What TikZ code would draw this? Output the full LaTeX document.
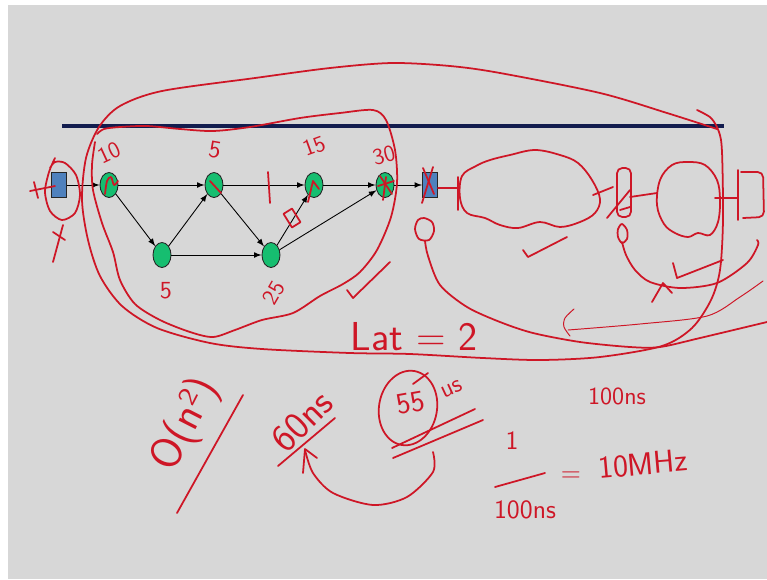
\documentclass[tikz,border=0pt]{standalone}
\usetikzlibrary{shapes.geometric}
\definecolor{penred}{RGB}{206,22,38}
\definecolor{stagegreen}{RGB}{22,190,112}
\definecolor{portblue}{RGB}{79,129,189}
\definecolor{railnavy}{RGB}{18,28,78}
\definecolor{slidegray}{RGB}{215,215,215}
\newcommand{\penfont}[1]{\fontsize{#1}{#1}\selectfont\sffamily}
\begin{document}
\begin{tikzpicture}[x=0.02cm, y=-0.02cm,
    stage/.style={ellipse, draw=black!85, fill=stagegreen, line width=0.5pt,
        minimum width=0.36cm, minimum height=0.5cm, inner sep=0pt},
    port/.style={rectangle, draw=black!85, fill=portblue, line width=0.5pt,
        minimum width=0.3cm, minimum height=0.5cm, inner sep=0pt},
    flow/.style={-latex, line width=0.5pt},
    ink/.style={penred, line width=1pt, line cap=round, line join=round},
    thinink/.style={penred, line width=0.55pt, line cap=round, line join=round},
    scrawl/.style={text=penred, inner sep=0pt}]
    \useasboundingbox (0,0) rectangle (767,579);
    \fill[white] (0,0) rectangle (767,579);
    \fill[slidegray] (8,5) rectangle (767,579);

    % 顶部横线
    \draw[railnavy, line width=2pt] (62,126) -- (724,126);

    % 流水线图
    \node[port]  (src) at (59,185) {};
    \node[stage] (n1)  at (109,185) {};
    \node[stage] (n2)  at (214,185) {};
    \node[stage] (n3)  at (314,185) {};
    \node[stage] (n4)  at (385,185) {};
    \node[stage] (n5)  at (162,255) {};
    \node[stage] (n6)  at (271,255) {};
    \node[port]  (snk) at (430,185) {};

    \draw[flow] (src) -- (n1);
    \draw[flow] (n1) -- (n2);
    \draw[flow] (n2) -- (n3);
    \draw[flow] (n3) -- (n4);
    \draw[flow] (n4) -- (snk);
    \draw[flow] (n1) -- (n5);
    \draw[flow] (n5) -- (n2);
    \draw[flow] (n2) -- (n6);
    \draw[flow] (n5) -- (n6);
    \draw[flow] (n6) -- (n3);
    \draw[flow] (n6) -- (n4);

    % 节点旁的手写延迟
    \node[scrawl, font=\penfont{13}, rotate=25] (l1) at (109,153) {10};
    \node[scrawl, font=\penfont{14}, rotate=-10] (l2) at (215,150) {5};
    \node[scrawl, font=\penfont{13}, rotate=20] (l3) at (314,146) {15};
    \node[scrawl, font=\penfont{13}, rotate=15] (l4) at (384,155) {30};
    \node[scrawl, font=\penfont{14}] (l5) at (166,291) {5};
    \node[scrawl, font=\penfont{13}, rotate=60] (l6) at (274,293) {25};

    % 节点上的记号
    \draw[ink] plot[smooth] coordinates {(105,194) (107,181) (111,177) (114,185) (118,181)};
    \draw[ink] (210,181) -- (221,193);
    \draw[ink] (308,202) -- (313,181) -- (319,189);
    \draw[ink] (378,186) -- (394,181);
    \draw[ink] (386,177) -- (383,200);
    \draw[ink] (380,176) -- (392,194);
    \draw[ink] (268,172) -- (270,203);
    \draw[ink, rotate around={-58:(292,218)}] (284,213) rectangle (300,223);

    % 输入端
    \draw[ink] plot[smooth] coordinates {(55,158) (49,172) (45,192) (50,211) (62,220) (75,213) (80,195) (76,175) (65,163) (55,162) (50,168)};
    \draw[ink] (30,191) -- (55,186);
    \draw[ink] (34,182) -- (38,198);
    \draw[ink] (53,262) -- (63,225);
    \draw[ink] (53,232) -- (65,240);

    % 输出端
    \draw[ink] (423,168) -- (434,194);
    \draw[ink] (422,203) -- (433,167);
    \draw[ink] plot[smooth cycle] coordinates {(424,218) (432,222) (434,231) (429,240) (419,239) (415,229) (418,220)};

    % 内圈
    \draw[ink] plot[smooth] coordinates {(97,134) (104,129) (120,127) (147,126) (180,129) (213,131) (250,127) (300,118) (340,113) (373,110) (386,120) (395,150) (397,183) (391,217) (377,250) (360,272) (343,284) (320,296) (293,313) (262,320) (235,330) (213,337) (190,332) (160,320) (135,304) (120,280) (113,252) (102,223) (93,190) (92,165) (95,142)};
    \draw[ink] (347,290) -- (353,298) -- (390,262);

    % 外圈
    \draw[ink] plot[smooth] coordinates {(697,110) (711,118) (719,132) (722,152) (723,220) (720,270) (711,300) (692,328) (662,346) (600,357) (540,360) (483,358) (410,354) (350,353) (262,349) (210,343) (157,328) (122,306) (100,276) (88,240) (82,200) (86,158) (99,127) (120,106) (162,91) (255,78) (330,68) (392,63) (450,66) (500,73) (600,93) (667,113) (717,129)};
    \node[scrawl, font=\penfont{23}] (lat) at (414,337) {Lat = 2};

    % 右侧草图
    \draw[ink] (438,188) -- (458,188);
    \draw[ink] (458,177) -- (458,210);
    \draw[ink] plot[smooth cycle, tension=0.6] coordinates {(462,176) (476,166) (490,160) (510,155) (535,150) (560,155) (578,163) (592,180) (600,199) (595,213) (580,222) (560,227) (540,222) (518,228) (500,225) (485,218) (467,213) (460,198)};
    \draw[ink] (523,250) -- (528,257) -- (567,237);
    \draw[ink] (593,195) -- (613,187);
    \draw[ink] (607,218) -- (630,190);
    \draw[ink, rounded corners=3pt] (617,168) rectangle (631,217);
    \draw[ink] (620,210) -- (630,207);
    \draw[ink] (630,197) -- (657,193);
    \draw[ink] plot[smooth cycle, tension=0.6] coordinates {(660,180) (672,165) (688,162) (705,165) (717,180) (720,200) (718,222) (710,235) (698,233) (688,237) (675,233) (664,224) (657,205)};
    \draw[ink] (715,198) -- (738,198);
    \draw[ink] (738,170) -- (738,220);
    \draw[ink, rounded corners=3pt] (741,172) -- (763,172) -- (764,217) -- (743,218);
    \draw[ink] plot[smooth cycle] coordinates {(622,224) (627,230) (627,239) (622,243) (618,237) (618,229)};
    \draw[ink] plot[smooth] coordinates {(622,242) (626,255) (635,270) (650,282) (680,288) (717,283) (747,263) (758,245) (757,240)};
    \draw[ink] (652,302) -- (663,283) -- (672,293);
    \draw[ink] (673,263) -- (677,278) -- (723,260);
    \draw[ink] plot[smooth] coordinates {(425,241) (428,256) (440,285) (467,307) (500,322) (533,333) (580,342) (630,347) (660,347) (700,338) (767,322)};
    \draw[thinink] plot[smooth] coordinates {(763,281) (740,297) (707,316) (640,324) (568,330)};
    \draw[thinink] plot[smooth] coordinates {(574,309) (565,318) (564,327) (570,336)};

    % 下方笔记
    \node[scrawl, font=\penfont{25}, rotate=63] (big) at (186,425) {O(n²)};
    \draw[ink] (243,395) -- (177,513);
    \node[scrawl, font=\penfont{22}, rotate=45] (t60) at (302,421) {60ns};
    \draw[ink] (335,418) -- (278,466);
    \node[scrawl, font=\penfont{17}, rotate=10] (t55) at (411,403) {55};
    \draw[ink] (428,373) -- (413,384);
    \draw[ink, rotate around={-10:(408,408)}] (408,408) ellipse (0.58cm and 0.75cm);
    \node[scrawl, font=\penfont{14}, rotate=25] (tus) at (452,389) {us};
    \draw[ink] (392,448) -- (475,409);
    \draw[ink] (393,458) -- (483,420);
    \draw[ink] plot[smooth] coordinates {(433,452) (433,472) (407,497) (373,505) (333,493) (313,473) (305,450)};
    \draw[ink] (303,473) -- (305,449) -- (317,458);

    \node[scrawl, font=\penfont{14}] (tns) at (617,396) {100ns};
    \node[scrawl, font=\penfont{15}] (num) at (512,441) {1};
    \draw[ink] (495,487) -- (545,473);
    \node[scrawl, font=\penfont{15}] (den) at (525,510) {100ns};
    \node[scrawl, font=\penfont{15}] (eq) at (571,477) {=};
    \node[scrawl, font=\penfont{18}, rotate=5] (freq) at (643,464) {10MHz};
\end{tikzpicture}
\end{document}
